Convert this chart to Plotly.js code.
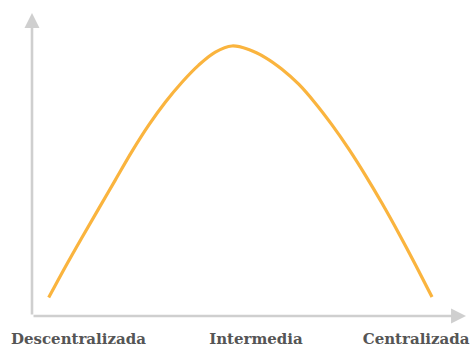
<!DOCTYPE html>
<html>
<head>
<meta charset="utf-8">
<script src="https://cdn.plot.ly/plotly-3.0.1.min.js"></script>
<style>
html,body{margin:0;padding:0;background:#fff;}
#chart{width:473px;height:347px;}
</style>
</head>
<body>
<div id="chart"></div>
<script>
// Conceptual curve: degree of centralisation (x) vs. outcome (y), 0-100 scale
const curveX = [3.85, 7.67, 11.52, 15.37, 19.19, 23.04, 26.89, 30.71, 34.56, 38.41, 42.24, 46.08, 49.93, 53.76, 57.60, 61.45, 65.28, 69.12, 72.97, 76.80, 80.65, 84.49, 88.32, 92.17];
const curveY = [6.07, 16.17, 25.91, 35.45, 44.85, 54.32, 62.97, 70.53, 77.16, 82.81, 87.10, 89.11, 87.95, 85.31, 81.45, 76.50, 70.23, 63.07, 55.15, 46.50, 37.19, 27.33, 17.03, 6.24];
const categoryPos = [10.7, 51.6, 88.5];
const categoryLabels = ["Descentralizada", "Intermedia", "Centralizada"];

const axisGray = "#CFCFCF";

const trace = {
  x: curveX, y: curveY, type: "scatter", mode: "lines",
  line: {color: "#FAB43E", width: 3.2, shape: "spline", smoothing: 1},
  hoverinfo: "skip"
};

const layout = {
  width: 473, height: 347,
  margin: {l: 32, r: 7, t: 13, b: 31},
  paper_bgcolor: "#ffffff", plot_bgcolor: "#ffffff",
  showlegend: false,
  xaxis: {
    range: [0, 100], showgrid: false, zeroline: false, showline: false,
    tickmode: "array", tickvals: categoryPos, ticktext: categoryLabels,
    ticks: "", ticklabelstandoff: 12,
    tickfont: {family: "DejaVu Serif", size: 15, color: "#555555", weight: "bold"},
    fixedrange: true
  },
  yaxis: {
    range: [0, 100], showgrid: false, zeroline: false, showline: false,
    showticklabels: false, ticks: "", fixedrange: true
  },
  annotations: [
    {x: 0, y: 100, ax: 0, ay: 0, xref: "x", yref: "y", axref: "x", ayref: "y",
     showarrow: true, arrowhead: 2, arrowsize: 1.15, arrowwidth: 2.6, arrowcolor: axisGray, text: ""},
    {x: 100, y: 0, ax: 0, ay: 0, xref: "x", yref: "y", axref: "x", ayref: "y",
     showarrow: true, arrowhead: 2, arrowsize: 1.15, arrowwidth: 2.6, arrowcolor: axisGray, text: ""}
  ]
};

Plotly.newPlot("chart", [trace], layout, {displayModeBar: false, staticPlot: true});
</script>
</body>
</html>
